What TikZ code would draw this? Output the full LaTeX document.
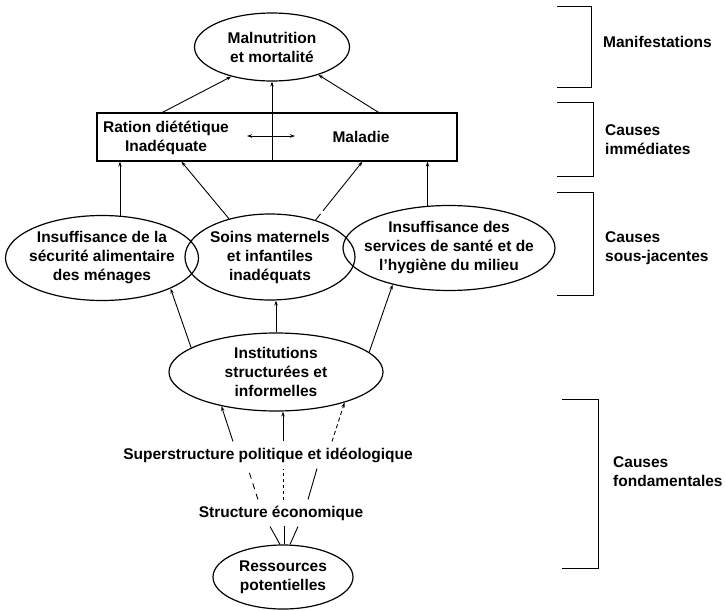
\documentclass[tikz,border=0pt]{standalone}
\usepackage{fontspec}
\setmainfont{Liberation Sans}
\usetikzlibrary{arrows.meta}
\usetikzlibrary{positioning}
\usetikzlibrary{shapes.geometric}

\begin{document}
\begin{tikzpicture}[x=1pt, y=-1pt,
                >={Stealth[length=5pt,width=3.5pt]},
                every node/.style = {font=\bfseries\fontsize{15.5}{19}\selectfont, align=center},
                oval/.style = {shape=ellipse, draw, line width=1.2pt, inner sep=-20pt},
                box/.style = {shape=rectangle, draw, line width=1.2pt},
                level/.style = {anchor=west, align=left, inner xsep=0pt},
                bracket/.style = {line width=1pt},
                link/.style = {line width=0.9pt}]
            \useasboundingbox (0,0) rectangle (725,610);

            \node[oval, minimum width=155pt, minimum height=68pt] (q_malnut) at (272,47) {Malnutrition\\ et mortalité};

            \node[box, minimum width=360pt, minimum height=48pt] (q_immed) at (277,137) {};
            \node (q_ration) at (166,138) {Ration diététique\\ Inadéquate};
            \node (q_maladie) at (361,137) {Maladie};
            \coordinate (q_left) at (247,136);
            \coordinate (q_right) at (295,136);

            \node[oval, minimum width=193pt, minimum height=85pt] (q_food) at (102,258) {Insuffisance de la\\ sécurité alimentaire\\ des ménages};
            \node[oval, minimum width=170pt, minimum height=86pt] (q_care) at (270,257) {Soins maternels\\ et infantiles\\ inadéquats};
            \node[oval, minimum width=212pt, minimum height=85pt] (q_health) at (449,248) {Insuffisance des\\ services de santé et de\\ l'hygiène du milieu};

            \node[oval, minimum width=214pt, minimum height=78pt] (q_inst) at (276,372) {Institutions\\ structurées et\\ informelles};
            \node[inner sep=6pt] (q_super) at (268,455) {Superstructure politique et idéologique};
            \node[inner sep=6pt] (q_econ) at (281,513) {Structure économique};
            \node[oval, minimum width=140pt, minimum height=64pt] (q_res) at (283,577) {Ressources\\ potentielles};

            % niveaux
            \node[level] (q_lvl_manif) at (603,42) {Manifestations};
            \node[level] (q_lvl_imm) at (605,140) {Causes\\ immédiates};
            \node[level] (q_lvl_sous) at (605,248) {Causes\\ sous-jacentes};
            \node[level] (q_lvl_fond) at (613,472) {Causes\\ fondamentales};

            \draw[bracket] (557,7) -- (591,7) -- (591,87) -- (557,87);
            \draw[bracket] (557,102) -- (593,102) -- (593,176) -- (557,176);
            \draw[bracket] (557,192) -- (593,192) -- (593,295) -- (557,295);
            \draw[bracket] (562,399) -- (598,399) -- (598,568) -- (562,568);

            \path[->, link]
            ([xshift=66pt]q_immed.north west)  edge (q_malnut.216)
            ([xshift=-79pt]q_immed.north east) edge (q_malnut.329)
            (q_malnut.south |- q_immed.south)  edge (q_malnut.south)
            (q_left)                           edge[<->] (q_right)
            (q_food.67)                        edge (q_food.67 |- q_immed.south)
            (q_care.137)                       edge ([xshift=85pt]q_immed.south west)
            (q_care.39)                        edge[dash pattern=on 8pt off 4pt on 100pt] ([xshift=266pt]q_immed.south west)
            (q_health.117)                     edge (q_health.117 |- q_immed.south)
            (q_inst.164)                       edge (q_food.336)
            (q_inst.north)                     edge (q_inst.north |- q_care.south)
            (q_inst.12)                        edge (q_health.213)
            ([xshift=-35pt]q_super.north)      edge (q_inst.212)
            ([xshift=15pt]q_super.north)       edge ([xshift=7pt]q_inst.south)
            ([xshift=64pt]q_super.north)       edge[dash pattern=on 4pt off 3pt] (q_inst.336);

            \path[link]
            ([xshift=-23pt]q_econ.north)       edge[dash pattern=on 6pt off 5pt] ([xshift=-20pt]q_super.south)
            ([xshift=2pt]q_econ.north)         edge[dash pattern=on 3pt off 3pt] ([xshift=15pt]q_super.south)
            ([xshift=27pt]q_econ.north)        edge ([xshift=49pt]q_super.south)
            ([xshift=-11pt]q_econ.south)       edge ([xshift=-3pt]q_res.north)
            ([xshift=3pt]q_econ.south)         edge ([xshift=1pt]q_res.north)
            ([xshift=17pt]q_econ.south)        edge ([xshift=7pt]q_res.north);
        \end{tikzpicture}
\end{document}
